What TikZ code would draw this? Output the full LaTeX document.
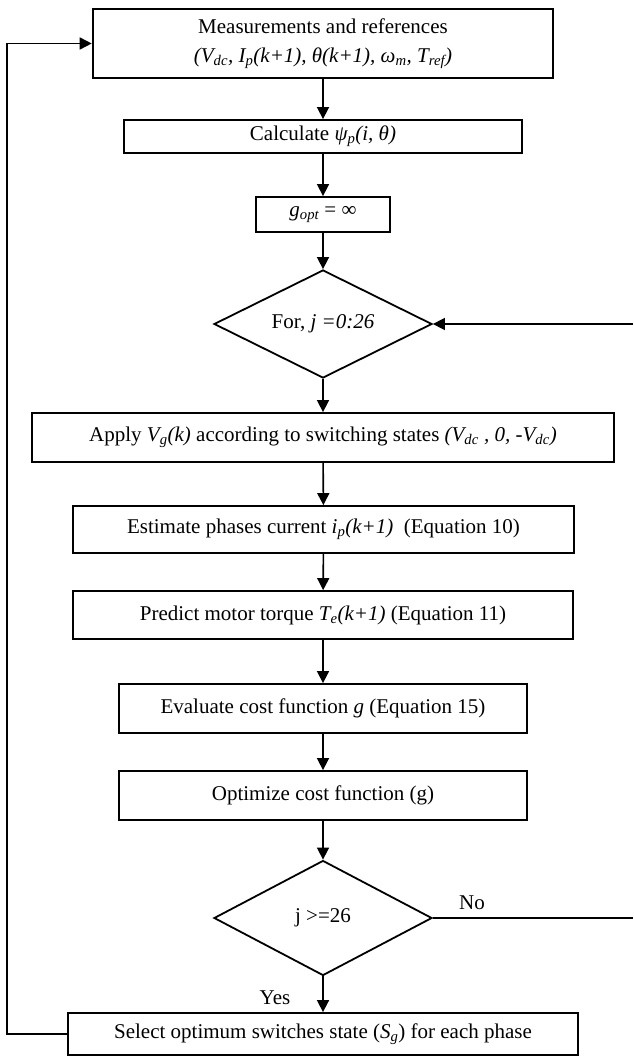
\documentclass[tikz,border=0pt]{standalone}
\usepackage{fontspec}
\setmainfont{Liberation Serif}
\usetikzlibrary{shapes.geometric,arrows.meta}
\begin{document}
\begin{tikzpicture}[x=1pt,y=-1pt,
  every node/.style={font=\fontsize{21}{25}\selectfont},
  box/.style={draw,line width=1.8pt,rectangle,inner sep=0pt,align=center},
  dec/.style={draw,line width=1.8pt,diamond,aspect=2,inner sep=0pt},
  arr/.style={line width=1.6pt,-{Triangle[length=12pt,width=12pt]}},
  ln/.style={line width=1.6pt}]
\useasboundingbox (0,0) rectangle (633,1059);
\node[box,line width=2.6pt,minimum width=460,minimum height=69] (meas) at (323,43.5)
  {Measurements and references\\[4pt]\textit{(V\textsubscript{dc}, I\textsubscript{p}(k+1), θ(k+1), ω\textsubscript{m}, T\textsubscript{ref})}};
\node[box,minimum width=398,minimum height=33] (calc) at (323,136.5) {Calculate \textit{ψ\textsubscript{p}(i, θ)}};
\node[box,minimum width=134,minimum height=35] (gopt) at (323,214.5) {\textit{g\textsubscript{opt}} = ∞};
\node[dec,minimum width=218,minimum height=108] (for) at (323,324) {For, \textit{j =0:26}};
\node[box,minimum width=582,minimum height=49] (apply) at (323,437.5) {Apply \textit{V\textsubscript{g}(k)} according to switching states \textit{(V\textsubscript{dc} , 0, -V\textsubscript{dc})}};
\node[box,minimum width=501,minimum height=47] (est) at (323.5,529.5) {Estimate phases current \textit{i\textsubscript{p}(k+1)}\ \ (Equation 10)};
\node[box,minimum width=500,minimum height=48] (pred) at (323,615) {Predict motor torque \textit{T\textsubscript{e}(k+1)} (Equation 11)};
\node[box,minimum width=408,minimum height=49] (eval) at (323,708.5) {Evaluate cost function \textit{g} (Equation 15)};
\node[box,minimum width=408,minimum height=49] (opt) at (323,795.5) {Optimize cost function (g)};
\node[dec,minimum width=218,minimum height=115] (jdec) at (323,918) {j >=26};
\node[box,minimum width=510,minimum height=42] (sel) at (323,1034) {Select optimum switches state (\textit{S\textsubscript{g}}) for each phase};
\node (no) at (472,903) {No};
\node (yes) at (275,998) {Yes};
\coordinate (r1) at (633,324);
\coordinate (r2) at (633,918);
\draw[arr] (meas) -- (calc);
\draw[arr] (calc) -- (gopt);
\draw[arr] (gopt) -- (for);
\draw[arr] (for) -- (apply);
\draw[arr] (apply) -- (est);
\draw[arr] (est) -- (pred);
\draw[arr] (pred) -- (eval);
\draw[arr] (eval) -- (opt);
\draw[arr] (opt) -- (jdec);
\draw[arr] (jdec) -- (sel);
\draw[ln] (jdec.east) -- (r2);
\draw[arr] (r1) -- (for.east);
\draw[arr] (sel.west) -- ++(-60,0) |- (meas.west);
\end{tikzpicture}
\end{document}
